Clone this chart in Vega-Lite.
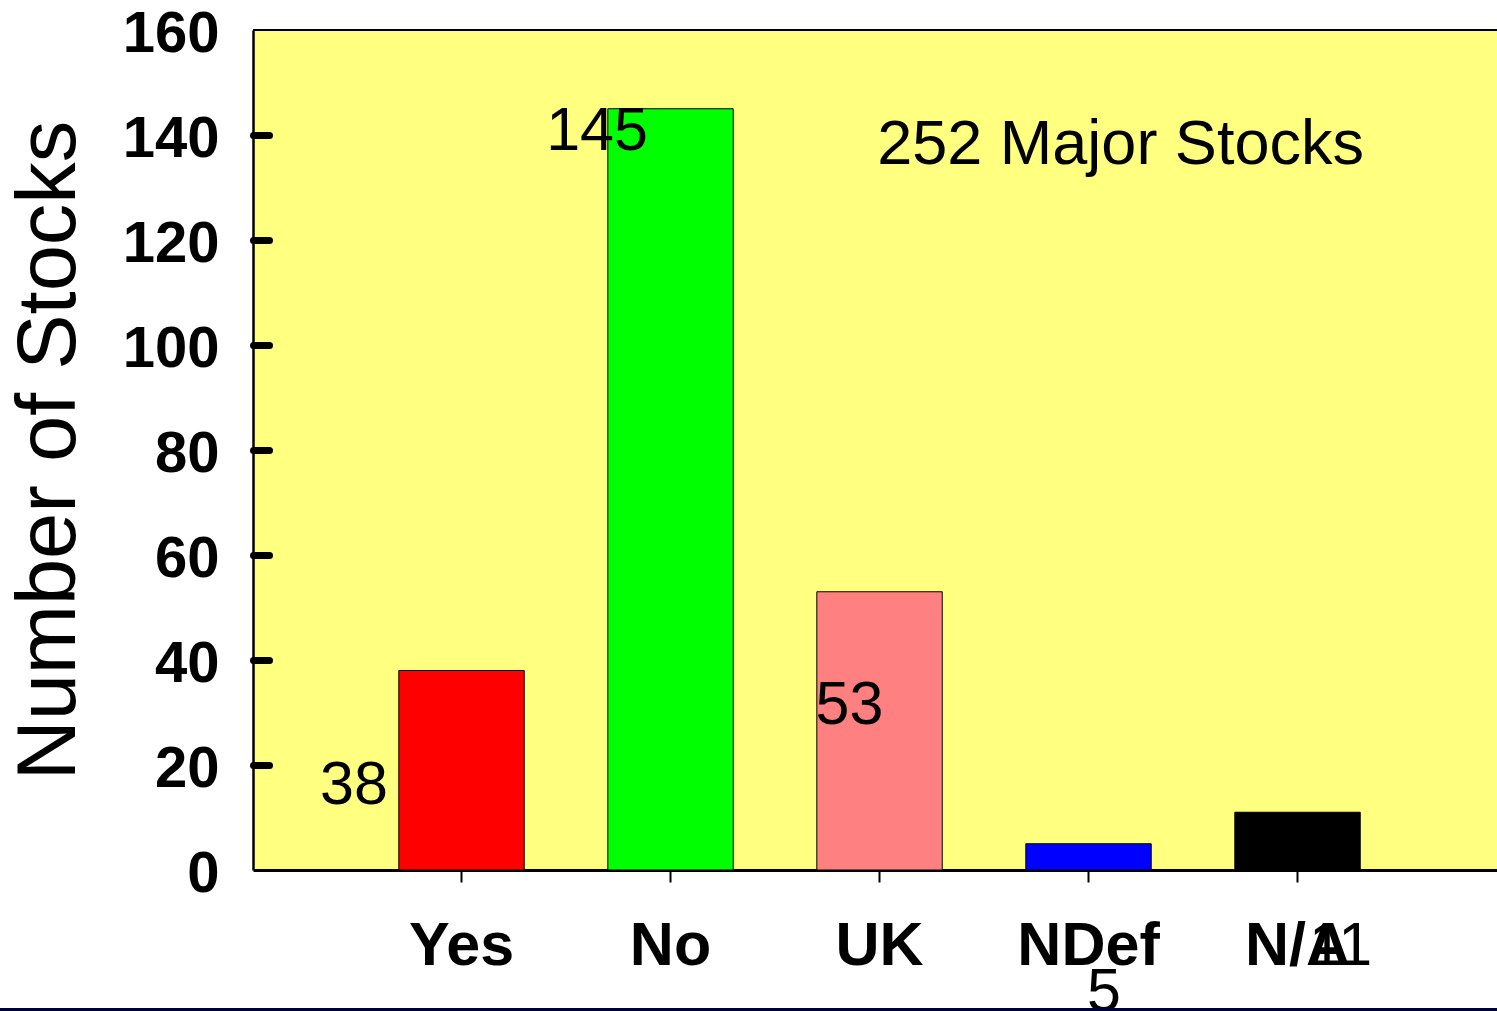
{
  "$schema": "https://vega.github.io/schema/vega-lite/v6.json",
  "width": 1244,
  "height": 840,
  "autosize": {"type": "none"},
  "padding": {"left": 253, "top": 30, "right": 0, "bottom": 141},
  "background": "white",
  "config": {"view": {"stroke": null, "fill": "#FFFF80"}, "font": "Liberation Sans"},
  "data": {"values": [
    {"answer": "Yes", "stocks": 38},
    {"answer": "No", "stocks": 145},
    {"answer": "UK", "stocks": 53},
    {"answer": "NDef", "stocks": 5},
    {"answer": "N/A", "stocks": 11}
  ]},
  "resolve": {"scale": {"x": "independent"}},
  "layer": [
    {
      "layer": [
        {
          "mark": {"type": "bar", "stroke": "black", "strokeWidth": 1},
          "encoding": {
            "x": {
              "field": "answer", "type": "nominal", "sort": null,
              "scale": {"domain": ["Yes", "No", "UK", "NDef", "N/A"], "paddingInner": 0.4, "paddingOuter": 0.676, "align": 0.516},
              "axis": {
                "title": null, "labelAngle": 0, "labelFont": "Liberation Sans", "labelFontSize": 61, "labelFontWeight": "bold",
                "labelColor": "black", "labelPadding": 34, "tickSize": 12, "tickWidth": 2, "tickColor": "black",
                "domainColor": "black", "domainWidth": 3
              }
            },
            "y": {
              "field": "stocks", "type": "quantitative",
              "scale": {"domain": [0, 160], "nice": false},
              "axis": {
                "title": "Number of Stocks", "titleFont": "Liberation Sans", "titleFontSize": 83, "titleFontWeight": "normal",
                "titleColor": "black", "titlePadding": 31,
                "values": [0, 20, 40, 60, 80, 100, 120, 140, 160], "grid": false,
                "labelFont": "Liberation Sans", "labelFontSize": 58, "labelFontWeight": "bold", "labelColor": "black",
                "labelPadding": 50, "labelOffset": 4,
                "tickSize": -16, "tickWidth": 7, "tickCap": "round", "tickColor": "black",
                "tickOpacity": {"condition": {"test": "datum.value === 0 || datum.value === 160", "value": 0}, "value": 1},
                "domainColor": "black", "domainWidth": 2.5
              }
            },
            "color": {
              "field": "answer", "type": "nominal",
              "scale": {"domain": ["Yes", "No", "UK", "NDef", "N/A"], "range": ["#FF0000", "#00FF00", "#FF8080", "#0000FF", "#000000"]},
              "legend": null
            }
          }
        },
        {
          "transform": [{"filter": "datum.answer === 'Yes'"}],
          "mark": {"type": "text", "fontSize": 61, "dx": -107.5, "dy": 133.5, "align": "center", "baseline": "alphabetic", "fill": "black"},
          "encoding": {"x": {"field": "answer", "type": "nominal"}, "y": {"field": "stocks", "type": "quantitative"}, "text": {"field": "stocks"}}
        },
        {
          "transform": [{"filter": "datum.answer === 'No'"}],
          "mark": {"type": "text", "fontSize": 61, "dx": -73.5, "dy": 41, "align": "center", "baseline": "alphabetic", "fill": "black"},
          "encoding": {"x": {"field": "answer", "type": "nominal"}, "y": {"field": "stocks", "type": "quantitative"}, "text": {"field": "stocks"}}
        },
        {
          "transform": [{"filter": "datum.answer === 'UK'"}],
          "mark": {"type": "text", "fontSize": 61, "dx": -30, "dy": 132, "align": "center", "baseline": "alphabetic", "fill": "black"},
          "encoding": {"x": {"field": "answer", "type": "nominal"}, "y": {"field": "stocks", "type": "quantitative"}, "text": {"field": "stocks"}}
        },
        {
          "transform": [{"filter": "datum.answer === 'NDef'"}],
          "mark": {"type": "text", "fontSize": 61, "dx": 15.5, "dy": 167, "align": "center", "baseline": "alphabetic", "fill": "black"},
          "encoding": {"x": {"field": "answer", "type": "nominal"}, "y": {"field": "stocks", "type": "quantitative"}, "text": {"field": "stocks"}}
        },
        {
          "transform": [{"filter": "datum.answer === 'N/A'"}],
          "mark": {"type": "text", "fontSize": 61, "dx": 43, "dy": 153, "align": "center", "baseline": "alphabetic", "fill": "black"},
          "encoding": {"x": {"field": "answer", "type": "nominal"}, "y": {"field": "stocks", "type": "quantitative"}, "text": {"field": "stocks"}}
        }
      ]
    },
    {
      "data": {"values": [{}]},
      "mark": {"type": "rule", "stroke": "black", "strokeWidth": 2},
      "encoding": {"y": {"datum": 160}}
    },
    {
      "data": {"values": [{}]},
      "mark": {"type": "text", "fontSize": 63, "align": "center", "baseline": "alphabetic", "fill": "black"},
      "encoding": {
        "x": {"datum": 4.151, "type": "quantitative", "scale": {"domain": [0, 5.952]}, "axis": null},
        "y": {"datum": 134.5},
        "text": {"value": "252 Major Stocks"}
      }
    },
    {
      "data": {"values": [{}]},
      "mark": {"type": "rule", "stroke": "#00003A", "strokeWidth": 3.5},
      "encoding": {
        "x": {"datum": -1.211, "type": "quantitative", "scale": {"domain": [0, 5.952]}, "axis": null},
        "x2": {"datum": 5.952},
        "y": {"datum": -26.6}
      }
    }
  ]
}
